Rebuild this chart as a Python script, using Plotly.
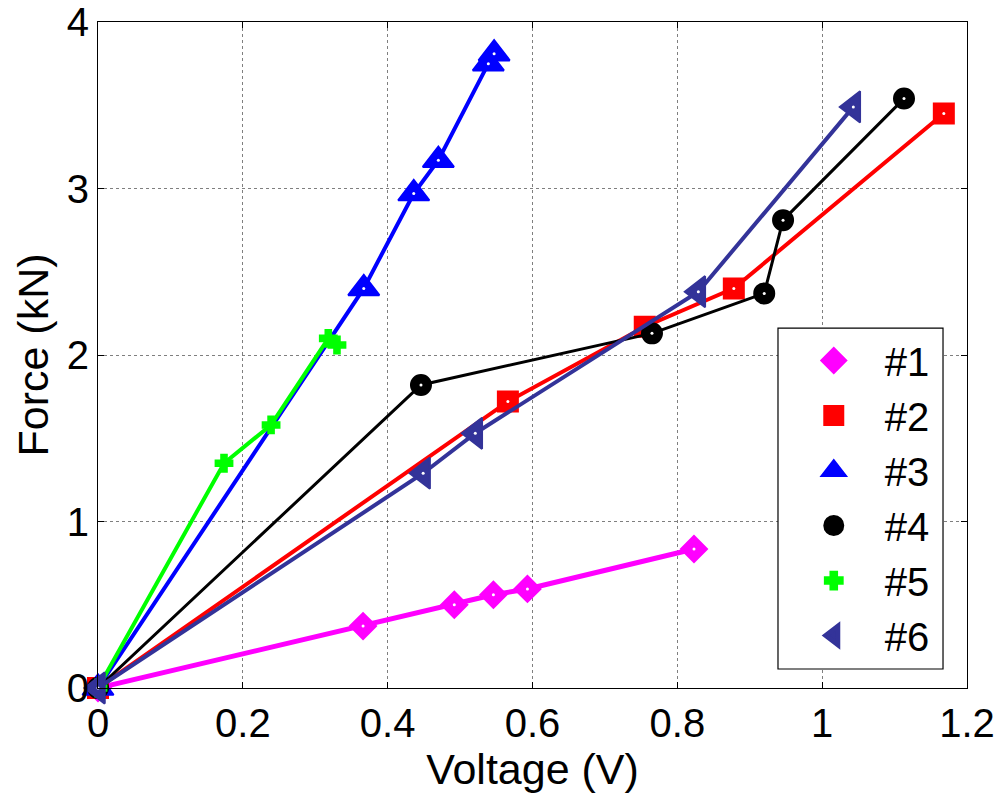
import plotly.graph_objects as go

# Force vs. voltage for six sensor samples
names = ["#1", "#2", "#3", "#4", "#5", "#6"]

v1 = [0, 0.366, 0.492, 0.546, 0.593, 0.823]
f1 = [0, 0.372, 0.50, 0.56, 0.595, 0.835]

v2 = [0, 0.566, 0.755, 0.878, 1.168]
f2 = [0, 1.72, 2.17, 2.40, 3.45]

v3 = [0, 0.367, 0.436, 0.470, 0.539, 0.547]
f3 = [0, 2.40, 2.97, 3.17, 3.75, 3.81]

v4 = [0, 0.446, 0.765, 0.920, 0.946, 1.113]
f4 = [0, 1.82, 2.13, 2.37, 2.81, 3.54]

v5 = [0, 0.174, 0.239, 0.318, 0.330]
f5 = [0, 1.35, 1.58, 2.10, 2.06]

v6 = [0, 0.449, 0.521, 0.829, 1.043]
f6 = [0, 1.29, 1.53, 2.38, 3.49]

x_ticks = [0, 0.2, 0.4, 0.6, 0.8, 1.0, 1.2]
x_tick_text = ["0", "0.2", "0.4", "0.6", "0.8", "1", "1.2"]
y_ticks = [0, 1, 2, 3, 4]

# (x, y, colour, symbol, marker size, marker edge, line width, hollow centre)
series = [
    (v1, f1, "#FF00FF", "diamond", 20, 2, 5, True),
    (v2, f2, "#FF0000", "square", 20, 2, 4, True),
    (v3, f3, "#0000FF", "triangle-up", 27, 2, 4, True),
    (v4, f4, "#000000", "circle", 20, 2, 3, True),
    (v5, f5, "#00FF00", "cross", 14, 2, 4, False),
    (v6, f6, "#333399", "triangle-left", 27, 2, 4, True),
]

fig = go.Figure()
for vx, fy, color, sym, msize, mlw, lw, hollow in series:
    fig.add_trace(go.Scatter(
        x=vx, y=fy, mode="lines+markers",
        line=dict(color=color, width=lw),
        marker=dict(symbol=sym, size=msize, color=color,
                    line=dict(color=color, width=mlw)),
        cliponaxis=False, showlegend=False, hoverinfo="x+y",
    ))
    if hollow:
        # small white hole in the middle of each marker
        fig.add_trace(go.Scatter(
            x=vx, y=fy, mode="markers",
            marker=dict(symbol="circle", size=3, color="white"),
            cliponaxis=False, showlegend=False, hoverinfo="skip",
        ))

# marker-only entries for the legend
for name, (vx, fy, color, sym, msize, mlw, lw, hollow) in zip(names, series):
    fig.add_trace(go.Scatter(
        x=[None], y=[None], mode="markers", name=name,
        legendgroup=name,
        marker=dict(symbol=sym, size=msize, color=color,
                    line=dict(color=color, width=5 if sym != "cross" else 3)),
    ))

font_family = "Liberation Sans, Arial, sans-serif"
axis_common = dict(
    showline=True, linecolor="black", linewidth=1.2, mirror="ticks",
    ticks="inside", ticklen=6, tickcolor="black", tickwidth=1.2,
    showgrid=True, gridcolor="rgba(0,0,0,0.5)", griddash="dot", gridwidth=1,
    zeroline=False, automargin=False,
    tickfont=dict(family=font_family, size=40, color="black"),
)

fig.update_layout(
    width=1003, height=796,
    margin=dict(l=98, r=36, t=22, b=108, autoexpand=False),
    paper_bgcolor="white", plot_bgcolor="white",
    font=dict(family=font_family, color="black"),
    xaxis=dict(range=[0, 1.2], tickvals=x_ticks, ticktext=x_tick_text,
               title=dict(text="Voltage (V)", font=dict(size=43), standoff=6),
               **axis_common),
    yaxis=dict(range=[0, 4], tickvals=y_ticks,
               title=dict(text="Force (kN)", font=dict(size=43), standoff=4),
               **axis_common),
    legend=dict(
        x=0.788, y=0.5405, xanchor="left", yanchor="top",
        bgcolor="rgba(0,0,0,0)", borderwidth=0,
        font=dict(family=font_family, size=40, color="black"),
        tracegroupgap=0, itemwidth=92,
    ),
    # white framed panel behind the legend entries
    shapes=[dict(
        type="rect", xref="paper", yref="paper",
        x0=0.7825, x1=0.9724, y0=0.0285, y1=0.5405,
        fillcolor="white", line=dict(color="black", width=1.2), layer="above",
    )],
)

fig.write_html("out.html")
